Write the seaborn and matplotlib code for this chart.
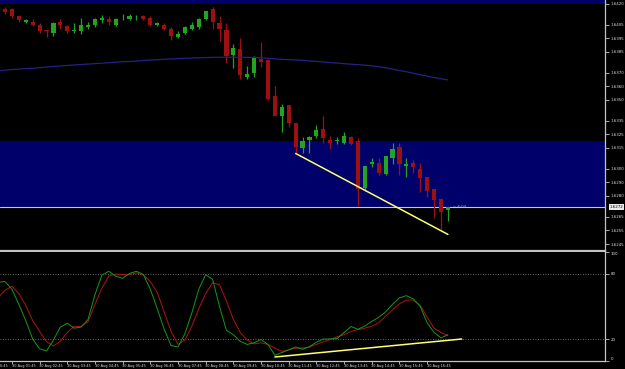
import numpy as np
import pandas as pd
import matplotlib
matplotlib.use("Agg")
import matplotlib.pyplot as plt
import matplotlib.transforms as mtransforms
import seaborn as sns

# ---------------- data (M15, 30 Aug) ----------------
bar_index = list(range(-1, 65))
opens = [1.6418, 1.6416, 1.6416, 1.6411, 1.6407, 1.6407, 1.6405, 1.6401, 1.6399, 1.6407, 1.6404,
         1.6400, 1.6400, 1.6403, 1.6405, 1.6408, 1.6409, 1.6405, 1.6410, 1.6409, 1.6410,
         1.6411, 1.6410, 1.6405, 1.6405, 1.6402, 1.6396, 1.6399, 1.6402, 1.6403, 1.6409,
         1.6416, 1.6406, 1.6401, 1.6383, 1.6387, 1.6367, 1.6370, 1.6380, 1.6379, 1.6353,
         1.6338, 1.6346, 1.6333, 1.6315, 1.6321, 1.6324, 1.6329, 1.6321, 1.6320, 1.6319,
         1.6323, 1.6320, 1.6286, 1.6303, 1.6304, 1.6296, 1.6308, 1.6316, 1.6302, 1.6304,
         1.6300, 1.6294, 1.6285, 1.6278, 1.6270]
highs = [1.6419, 1.6418, 1.6417, 1.6412, 1.6409, 1.6409, 1.6406, 1.6401, 1.6407, 1.6409, 1.6405,
         1.6406, 1.6410, 1.6407, 1.6410, 1.6412, 1.6411, 1.6410, 1.6413, 1.6413, 1.6412,
         1.6412, 1.6411, 1.6407, 1.6406, 1.6403, 1.6400, 1.6404, 1.6407, 1.6410, 1.6415,
         1.6418, 1.6411, 1.6406, 1.6391, 1.6395, 1.6375, 1.6382, 1.6392, 1.6380, 1.6360,
         1.6347, 1.6346, 1.6333, 1.6323, 1.6324, 1.6332, 1.6338, 1.6324, 1.6323, 1.6327,
         1.6324, 1.6322, 1.6302, 1.6308, 1.6308, 1.6309, 1.6319, 1.6319, 1.6308, 1.6306,
         1.6304, 1.6294, 1.6285, 1.6278, 1.6272]
lows = [1.6416, 1.6413, 1.6410, 1.6407, 1.6406, 1.6404, 1.6399, 1.6396, 1.6397, 1.6402, 1.6399,
        1.6399, 1.6398, 1.6402, 1.6403, 1.6406, 1.6405, 1.6404, 1.6408, 1.6408, 1.6408,
        1.6408, 1.6404, 1.6404, 1.6401, 1.6394, 1.6395, 1.6398, 1.6401, 1.6402, 1.6408,
        1.6402, 1.6393, 1.6377, 1.6373, 1.6365, 1.6365, 1.6367, 1.6374, 1.6350, 1.6338,
        1.6327, 1.6330, 1.6311, 1.6311, 1.6311, 1.6322, 1.6319, 1.6314, 1.6318, 1.6318,
        1.6317, 1.6273, 1.6284, 1.6301, 1.6295, 1.6295, 1.6303, 1.6295, 1.6294, 1.6297,
        1.6283, 1.6279, 1.6264, 1.6255, 1.6262]
closes = [1.6417, 1.6414, 1.6411, 1.6408, 1.6408, 1.6405, 1.6400, 1.6400, 1.6406, 1.6405, 1.6400,
          1.6401, 1.6405, 1.6405, 1.6409, 1.6410, 1.6407, 1.6409, 1.6410, 1.6411, 1.6410,
          1.6409, 1.6405, 1.6406, 1.6402, 1.6397, 1.6398, 1.6403, 1.6405, 1.6409, 1.6415,
          1.6407, 1.6402, 1.6382, 1.6388, 1.6368, 1.6369, 1.6381, 1.6378, 1.6351, 1.6338,
          1.6345, 1.6333, 1.6316, 1.6320, 1.6323, 1.6328, 1.6322, 1.6319, 1.6321, 1.6324,
          1.6318, 1.6285, 1.6302, 1.6305, 1.6297, 1.6309, 1.6314, 1.6303, 1.6303, 1.6301,
          1.6293, 1.6284, 1.6277, 1.6268, 1.6272]
ma_values = [1.63713, 1.63717, 1.63722, 1.63725, 1.63729, 1.63731, 1.63736, 1.63740, 1.63744,
             1.63748, 1.63752, 1.63755, 1.63759, 1.63762, 1.63765, 1.63768, 1.63772, 1.63775,
             1.63779, 1.63781, 1.63784, 1.63788, 1.63791, 1.63794, 1.63797, 1.63799, 1.63802,
             1.63804, 1.63806, 1.63808, 1.63809, 1.63811, 1.63811, 1.63812, 1.63812, 1.63812,
             1.63811, 1.63810, 1.63808, 1.63804, 1.63800, 1.63797, 1.63794, 1.63792, 1.63789,
             1.63785, 1.63781, 1.63777, 1.63773, 1.63769, 1.63765, 1.63761, 1.63757, 1.63754,
             1.63749, 1.63743, 1.63735, 1.63725, 1.63715, 1.63706, 1.63695, 1.63684, 1.63674,
             1.63664, 1.63655, 1.63646]
stoch_main = [72.5, 73, 66, 52, 37, 20, 11, 9, 19, 31, 34.5, 30, 31, 38, 61, 79, 82.5, 78, 76,
              80.5, 82.5, 79.5, 66, 48, 29, 14, 12.6, 25, 44, 66, 79.4, 75, 50, 28, 24, 17.8,
              15, 16.5, 19.5, 15, 5, 7.5, 10, 12.6, 10.5, 13, 17, 20, 20, 20.5, 26, 31.5, 29,
              32, 36.3, 40, 45, 52, 58, 60, 57, 50, 35, 26, 21, 24]
stoch_signal = [58, 65, 68.6, 62, 51, 37, 27, 17.5, 13.5, 18, 26, 31.7, 31.7, 36, 52, 67, 78, 80,
                79.4, 79.4, 81, 79, 73, 63, 45, 27, 15, 19, 32, 48, 62, 72, 70, 55, 38, 26, 19,
                15.5, 16.5, 15, 11.5, 8.6, 10, 11.7, 11.7, 12.5, 15, 17.5, 19.5, 22, 24, 27,
                28.6, 30, 31.7, 35, 41, 47, 52.5, 56, 56, 51, 40, 30, 26, 23]

price_ticks = [1.6420, 1.6405, 1.6395, 1.6385, 1.6370, 1.6360, 1.6350, 1.6335,
               1.6325, 1.6315, 1.6300, 1.6290, 1.6280, 1.6265, 1.6255, 1.6245]
price_tick_labels = ["1.6420", "1.6405", "1.6395", "1.6385", "1.6370", "1.6360", "1.6350",
                     "1.6335", "1.6325", "1.6315", "1.6300", "1.6290", "1.6280", "1.6265",
                     "1.6255", "1.6245"]
stoch_ticks = [0, 20, 80, 100]
stoch_tick_labels = ["0", "20", "80", "100"]
time_label_bars = [-3, 1, 5, 9, 13, 17, 21, 25, 29, 33, 37, 41, 45, 49, 53, 57, 61]
time_labels = ["30 Aug 00:45", "30 Aug 01:45", "30 Aug 02:45", "30 Aug 03:45", "30 Aug 04:45",
               "30 Aug 05:45", "30 Aug 06:45", "30 Aug 07:45", "30 Aug 08:45", "30 Aug 09:45",
               "30 Aug 10:45", "30 Aug 11:45", "30 Aug 12:45", "30 Aug 13:45", "30 Aug 14:45",
               "30 Aug 15:45", "30 Aug 16:45"]
bid_price = 1.6272
zone_top, zone_bottom = 1.6320, 1.6272
top_band = (1.6420, 1.6430)
trend_price_bars = [42, 64]
trend_price_vals = [1.6311, 1.6252]
trend_stoch_bars = [39, 66]
trend_stoch_vals = [3.4, 20]
timer_text = "< 6:04"

# ---------------- style ----------------
sns.set_theme(style="dark", rc={"axes.facecolor": "black", "figure.facecolor": "black",
                                "axes.grid": False})
plt.rcParams['font.family'] = ['DejaVu Sans']

BULL = "#22a422"
BEAR = "#9c1010"
AXC = "#c4c4c4"
TXT = "#dcdcdc"

W, H = 625, 369
def rect(x0, y0, x1, y1):
    return [x0 / W, 1 - y1 / H, (x1 - x0) / W, (y1 - y0) / H]

fig = plt.figure(figsize=(6.25, 3.69), dpi=100)
fig.patch.set_facecolor("black")
ax = fig.add_axes(rect(0, 0, 605, 251))
ax2 = fig.add_axes(rect(0, 252, 605, 361))

xlim = (-0.72, 86.7)

df = pd.DataFrame({"bar": bar_index, "open": opens, "high": highs, "low": lows,
                   "close": closes, "ma": ma_values, "k": stoch_main, "d": stoch_signal})

# ---- main window ----
ax.set_facecolor("black")
ax.axhspan(zone_bottom, zone_top, color="#00006a", lw=0, zorder=0)
ax.axhspan(top_band[0], top_band[1], color="#00006a", lw=0, zorder=0)
ax.axhline(bid_price, color="#c8c8e0", lw=0.8, zorder=1)

for _, r in df.iterrows():
    up = r["close"] >= r["open"]
    c = BULL if up else BEAR
    ax.vlines(r["bar"], r["low"], r["high"], color=c, lw=0.9, zorder=2)
    lo = min(r["open"], r["close"])
    h = max(abs(r["close"] - r["open"]), 0.000012)
    ax.bar(r["bar"], h, bottom=lo, width=0.6, color=c, linewidth=0, zorder=3)

sns.lineplot(data=df, x="bar", y="ma", ax=ax, color="#222288", linewidth=0.9,
             legend=False, zorder=4)
sns.lineplot(x=trend_price_bars, y=trend_price_vals, ax=ax, color="#ffff70",
             linewidth=1.1, legend=False, zorder=5)

ax.text(64.7, bid_price - 0.00002, timer_text, fontsize=2.8, color="#b8b8b8",
        ha="left", va="center", zorder=6)

ax.set_xlim(*xlim)
ax.set_ylim(1.62399, 1.64229)
ax.set_xlabel("")
ax.set_ylabel("")
ax.set_xticks([])
ax.yaxis.tick_right()
ax.set_yticks(price_ticks)
ax.set_yticklabels(price_tick_labels)
ax.tick_params(axis="y", direction="out", length=3, width=0.6, colors=AXC,
               labelcolor=TXT, labelsize=2.9, pad=1.2, right=True, left=False)
for s in ["top", "left"]:
    ax.spines[s].set_visible(False)
ax.spines["right"].set_color(AXC)
ax.spines["right"].set_linewidth(0.9)
ax.spines["bottom"].set_color(AXC)
ax.spines["bottom"].set_linewidth(1.6)

# current price box
trans = mtransforms.blended_transform_factory(ax.transAxes, ax.transData)
ax.text(1.0 + 4.5 / 605, bid_price, "1.6272", transform=trans, fontsize=2.9,
        color="black", ha="left", va="center", clip_on=False, zorder=7,
        bbox=dict(facecolor="#ececec", edgecolor="none", pad=0.4))

# ---- stochastic window ----
ax2.set_facecolor("black")
ax2.axhline(80, color="#8a8a8a", lw=0.6, ls=(0, (1, 2)))
ax2.axhline(20, color="#8a8a8a", lw=0.6, ls=(0, (1, 2)))
sns.lineplot(data=df, x="bar", y="d", ax=ax2, color="#b01414", linewidth=0.7, legend=False)
sns.lineplot(data=df, x="bar", y="k", ax=ax2, color="#159a15", linewidth=0.7, legend=False)
sns.lineplot(x=trend_stoch_bars, y=trend_stoch_vals, ax=ax2, color="#ffff70",
             linewidth=1.1, legend=False)

ax2.set_xlim(*xlim)
ax2.set_ylim(-0.3, 100.3)
ax2.set_xlabel("")
ax2.set_ylabel("")
ax2.yaxis.tick_right()
ax2.set_yticks(stoch_ticks)
ax2.set_yticklabels(stoch_tick_labels)
ax2.tick_params(axis="y", direction="out", length=3, width=0.6, colors=AXC,
                labelcolor=TXT, labelsize=2.9, pad=1.2, right=True, left=False)
ylabels = ax2.get_yticklabels()
ylabels[0].set_va("bottom")
ylabels[-1].set_va("top")
vis_bars = [b for b in time_label_bars if xlim[0] <= b <= xlim[1]]
ax2.set_xticks(vis_bars)
ax2.set_xticklabels([])
ax2.tick_params(axis="x", direction="out", length=2, width=0.6, colors=AXC, bottom=True)
xtrans = mtransforms.blended_transform_factory(ax2.transData, ax2.transAxes)
for b, lab in zip(time_label_bars, time_labels):
    ax2.text(b - 0.05, -0.025, lab, transform=xtrans, fontsize=2.5, color=TXT,
             ha="left", va="top", clip_on=False)
ax2.spines["top"].set_visible(False)
ax2.spines["left"].set_visible(False)
ax2.spines["right"].set_color(AXC)
ax2.spines["right"].set_linewidth(0.9)
ax2.spines["bottom"].set_color(AXC)
ax2.spines["bottom"].set_linewidth(0.9)

fig.savefig("out.png", dpi=100, facecolor="black")
